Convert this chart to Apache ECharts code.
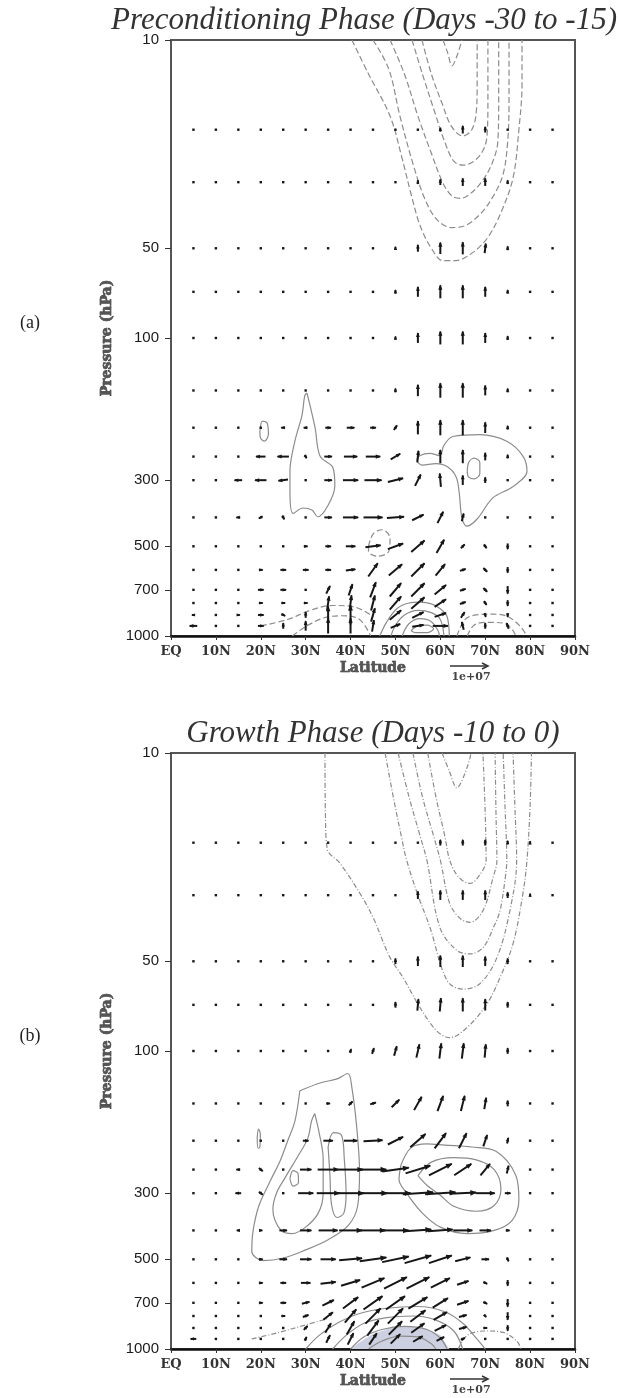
<!DOCTYPE html>
<html><head><meta charset="utf-8">
<script src="https://cdn.jsdelivr.net/npm/echarts@6/dist/echarts.min.js"></script>
<style>html,body{margin:0;padding:0;background:#fff;}#c{width:620px;height:1398px;}</style>
</head><body><div id="c"></div>
<script>
// ---------- axes / grid definitions ----------
const LATS = [5,10,15,20,25,30,35,40,45,50,55,60,65,70,75,80,85];
const LEVELS = [20,30,50,70,100,150,200,250,300,400,500,600,700,775,850,925];
const P_TICKS = [10,50,100,300,500,700,1000];
const LAT_LABELS = ['EQ','10N','20N','30N','40N','50N','60N','70N','80N','90N'];
const TITLES = ['Preconditioning Phase (Days -30 to -15)','Growth Phase (Days -10 to 0)'];
const TAGS = ['(a)','(b)'];
const REF_VALUE = 10;   // reference vector, units of 1e6 (label 1e+07)

// ---------- panel (a) vectors: rows = LEVELS, cols = LATS (units 1e6) ----------
const A_U = [
 [0,0,0,0,0,0,0,0,0,0,0,0,0,0,0,0,0],
 [0,0,0,0,0,0,0,0,0,-0.3,0,0,0,0,0,0,0],
 [0,0,0,0,0,0,0,0,0,0,0,0,0,0.3,0,0,0],
 [0,0,0,0,0,0,0,0,0,0,0,0,0,0,0,0,0],
 [0,0,0,0,0,0,0,0,0,0,0,0,0,0,0,0,0],
 [0,0,0,0,0,0,0,0,0,0,0,0,0,0,0,0,0],
 [0,0,0,0,-1,-1,1.5,2,1.5,0.8,0,0,0,0,0,0,0],
 [-0.5,0,0,-2.5,-3,0.5,2,3.5,3.8,2.5,0.3,0,0,0,0,0,0],
 [-0.5,0,-2,-3,-2.5,0,2,4,4.5,4,1.5,-0.3,0,0,0,0,0],
 [0,0,-1,-1,0.5,0.5,2,4,5,4.5,3,1.5,0.5,0,0,0,0],
 [0,0,0.5,0,0.5,1,1.5,2.5,4,4,3.5,2,1,0.7,0,0,0],
 [0,0,0,1,1.5,1.5,1.5,2.5,2.5,3.5,3.5,2.5,1.5,1,0,0,0],
 [0,0,0,1.5,1.5,0,1,1,1.5,3,3.5,3,1.5,1,0,0,0],
 [0,0,0,1,1,1,0.5,0.5,1,3,3.5,3,1.5,0.7,0,0,0],
 [-0.8,0,0.8,1.5,1,0,0,0,1,3,3,3,1,0.3,0,0,0],
 [-2,0,0,1.5,0,0,0,0,0.5,2.5,3,4,-0.5,0,-0.5,0,0]
];
const A_V = [
 [0,0,0,0,0,0,0,0,0,0.3,0.5,1,2,1.5,0.5,0,0],
 [0,0,0,0,0,0,0,0,0,0.5,1,1.5,2,2,1,0,0],
 [0,0,0,0,0,0,0,0,0.3,0.8,1.8,3,3.2,2.5,1,0.2,0],
 [0,0,0,0,0,0,0,0,0,1,2.6,3.4,3.4,2.6,1,0,0],
 [0,0,0,0,0,0,0,0,0,0.8,2.6,3.4,3.4,2.6,1,0,0],
 [0,0,0,0,0,0,0,0,0,1,3,3.8,3.8,2.6,1,0,0],
 [0,0,0,0,0,0,0,0,0,1.2,3.5,4,4,2.8,1,0,0],
 [0,0,0,0,0,-0.8,0,0,0,1.5,3,3.5,3.5,2,1,0,0],
 [0,0,0,0,-0.3,0,0,0,0,1,3,3.5,2.5,1.5,0,0,0],
 [0,0,0,-0.5,-1,0,0,0,0,0.3,1.5,3,2,0,0,0,0],
 [0,0,0,0,0,0,0,0,0.5,1.5,3,3.5,1,-1,-1.5,0,0],
 [0,0,0,0,0,0,0,0.3,3.5,3,3.5,3,0.5,-1,-1.5,0,0],
 [0,0,0,0,0,0,2,3,4,3.5,3.5,2.5,0.5,-1,-2,0,0],
 [0,0,0,0,0,0,3.5,4,4,3.5,3,2,0.5,-1,-1.5,0,0],
 [0,0,0,0,-0.5,1.5,4.5,5,3.5,2.5,1.5,1,1.5,-1,-1,0,0],
 [0,0,0,0,1.5,2.5,4,4,3,1,0.5,0,2,1.5,1.5,0,0]
];

// ---------- panel (b) vectors ----------
const B_U = [
 [0,0,0,0,0,0,0,0,0,0,0,0,0,0,0,0,0],
 [0,0,0,0,0,0,0,0,0,0.2,0,0,0,0,0,0,0],
 [0,0,0,0,0,0,0,0,0,0,0,0,0,0,0,0,0],
 [0,0,0,0,0,0,0,0,0,0,0.3,0.3,0,0,0,0,0],
 [0,0,0,0,0,0,0,0.3,0.5,0.7,0.8,0.5,0.5,0.3,0,0,0],
 [0,0,0,0,0,0.5,1,1,1.5,2,2,1.5,1,0.5,0,0,0],
 [0,0,0,0,0,1.5,2.5,3.5,5,4,4,3,2,1,0.3,0,0],
 [0,0,-1,1,0,3,5.5,6.5,7,7,6.5,6,4.5,2.5,0.5,0.3,0],
 [0,0,-1.5,1,0.5,4,6,7,7.5,8,8,8,7,5,1.5,0,0],
 [0,0,-0.8,0.8,2,3,5,6,6.5,7,7,6.5,5,3,1,0,0],
 [0,0,0.5,1,2,3,4,6,7,7,7,6,4,2,0.5,0,0],
 [0,0,0,1,1.5,2.5,4,5,6,6,6,5,3,1,0,0,0],
 [0,0,0.5,1,1.5,2,3,4,5,5,5,4,3,1,0,0,0],
 [0,0,0,0.5,1,1.5,2.5,3,4,4,4,3.5,2,0.5,0,0,0],
 [0,0,0,0,0.5,1,1.5,2,3,3.5,3.5,3,2,1,0,0,0],
 [-1.5,0,0,0,0,0.5,1,1.5,2,2.5,2.5,2,1,0.5,0,0,0]
];
const B_V = [
 [0,0,0,0,0,0,0,0,0,0,0.3,1.5,1.5,1.5,1,0.8,0],
 [0,0,0,0,0,0,0,0,0,0,2,2.5,2.5,2.5,1.5,0.8,0],
 [0,0,0,0,0,0,0,0,0,1.5,2.5,3,3,2.5,1.5,0.3,0],
 [0,0,0,0,0,0,0,0,0.3,1.5,3,3.5,3.5,3,1.5,0,0],
 [0,0,0,0,0,0,0,1,1.5,2.5,3.5,4,4,3.5,1.5,0,0],
 [0,0,0,0,0,0,0,1,0.5,2,3.5,4,4,3,1.5,0,0],
 [0,0,0,0.5,0,0,0,0,0.3,2,3.5,4,4,3,1.5,0,0],
 [0,0,0,-0.8,0,0,0,0,0,1,2,3,3,3,2,-0.3,0],
 [0,0,0,-0.8,0,0,0,0,0,0,0.5,0.5,0.3,0,0,0,0],
 [0,0,0,0,0,0,0,0,0,0,0.5,0.5,0,0,0,0,0],
 [0,0,0,0,0,0,0,0.5,1,1.5,2,2,1,0,-1,0,0],
 [0,0,0,0,0,0,0.5,1.5,2.5,3,3,2.5,1,-0.5,-1.5,0,0],
 [0,0,0,0,0,0.5,1.5,3,3.5,3.5,3,2.5,1,-0.5,-2,0,0],
 [0,0,0,0,0,0.5,2,3.5,4,4,3,2,0.5,-0.5,-2,0,0],
 [0,0,0,0,0,1,2.5,3.5,4,3.5,2.5,1.5,0.5,0,-1.5,0,0],
 [0,0,0,0,0,1,2,3,3,2.5,1.5,1,0.5,0,0,0,0]
];

// ---------- contours [lat, hPa] ----------
const A_NEG_UPPER = [
 [[60.6,10],[61.6,11],[62.6,12.2],[63.8,11.2],[64.8,10]],
 [[55.9,10],[58,13],[60.5,16.5],[62.5,19.5],[65,21],[67,20],[68,17.5],[68.2,14],[68.2,10]],
 [[53.7,10],[56,13],[58.5,17],[61,22],[63,25.5],[65,26.3],[67.5,25.5],[69.5,23.5],[70.4,21],[70.6,16],[70.6,10]],
 [[48.8,10],[52,13],[55,18],[58,24],[60.5,30],[62.5,33.3],[64.5,34],[67,32.5],[69.5,29.5],[71.5,26],[72.8,22],[73,16],[73,10]],
 [[45,10],[48.5,12.5],[51,18],[53.9,26],[56.5,34],[59.2,40],[62.5,42.6],[65.5,42],[68.8,38.5],[71.5,34],[73.9,28.5],[75,22],[75.3,16],[75.3,10]],
 [[40.3,10],[44,13],[48.8,18],[51.5,25],[53.5,33],[55.5,42],[58,50],[60.6,55],[63.5,55],[66.6,52.5],[69,49],[71,45],[73.5,38],[76.2,29],[77.5,20],[78.2,14],[78.2,10]]
];
const A_POS = [
 [[30.3,153],[32.1,200],[33.2,249],[36.1,273],[36.5,313],[35,364],[32.7,398],[31.4,378],[29.4,372],[27.2,388],[26.5,327],[26.5,280],[27.6,222],[29.2,181],[29.8,156],[30.3,153]],
 [[19.8,205],[20.4,190],[21.4,193],[21.7,210],[20.8,222],[19.9,216],[19.8,205]],
 [[60.6,232],[62.8,214],[68.8,211],[74.8,222],[78.4,249],[79.3,280],[76.2,315],[71.7,344],[68.2,405],[65.9,428],[64.8,400],[64.2,330],[63.5,292],[61.5,270],[59,264],[56,267],[54.8,257],[55.5,248],[57.7,244],[59.8,248],[60.6,232]],
 [[66,283],[66.3,262],[67.5,253],[68.8,262],[68.8,285],[67.5,297],[66.3,293],[66,283]],
 [[46.5,1000],[48,900],[50.3,810],[53,775],[55.5,770],[58,780],[60,810],[61.5,860],[62,1000]],
 [[49,1000],[50,920],[52,850],[55,820],[58,835],[60,880],[60.8,1000]],
 [[51.5,1000],[53,910],[55.5,875],[58,895],[59.5,960],[59.8,1000]],
 [[53.5,960],[55,925],[57,920],[58.5,945],[57,975],[54.5,975],[53.5,960]]
];
const A_NEG_LOWER = [
 [[44,500],[45,455],[47,440],[48.8,470],[48.5,520],[46,540],[44,520],[44,500]],
 [[63.7,1000],[65.5,880],[68,850],[72,845],[75,860],[77.7,925],[79.3,1000]],
 [[66,1000],[67.5,920],[70.5,900],[74,905],[76,950],[76.8,1000]],
 [[20,925],[26,880],[31,820],[36,790],[41,800],[45,860]],
 [[27,1000],[30,930],[34,870],[38,855],[42,880],[44.5,1000]]
];
const B_NEG_UPPER = [
 [[60.4,10],[62,11.5],[63.7,13.1],[65.2,12],[66.6,10.4],[66.8,10]],
 [[57.2,10],[59,14],[61,19],[62.1,22.9],[64,26],[66.6,27.4],[68.5,26],[70.2,22.9],[70,16],[69.5,10]],
 [[53.9,10],[56,14],[58.5,19],[60,22.9],[62.1,32],[64.5,36],[66.6,37],[69.5,33.8],[71.8,26],[72.6,22.9],[72.4,16],[72.2,10]],
 [[50.6,10],[53,14],[55.5,19],[57,22.9],[59.9,38.5],[63.7,46],[66.6,47.2],[69.5,45],[72,38],[73.3,33.8],[74.5,26],[74.8,22.9],[74.4,15],[74,10]],
 [[47.7,10],[49.5,14],[51.3,19],[52.5,22.9],[55,30],[57.7,38.5],[61.5,58],[65,62],[68.8,59.5],[72.6,48.6],[75.5,33.8],[77,22.9],[76.6,15],[76.2,10]],
 [[34.3,10],[34.4,16],[34.8,21],[37.6,23.4],[42.1,29.6],[45,35.6],[48.8,48.6],[51.7,56.7],[55.5,71.6],[59.2,85.6],[62.1,90.2],[65.9,83.6],[70.4,69.4],[73.3,56.7],[76.2,43.6],[78.4,29.6],[79.3,22.9],[80,15],[80.3,10]]
];
const B_POS = [
 [[28.7,136],[33.2,128],[37,124],[39.4,119],[40.3,133],[41.4,182],[42,254],[41.6,330],[39.5,385],[35,430],[30,465],[25,495],[20.5,505],[18,470],[18.3,400],[19.6,330],[22,275],[24.3,234],[26,200],[27.6,172],[28.7,136]],
 [[32,162],[33,188],[33.9,230],[33.9,300],[32.8,350],[30,390],[27,410],[24.5,400],[22.7,340],[23.5,300],[25.5,265],[28.3,225],[30.5,196],[31.3,172],[32,162]],
 [[26.5,268],[27.2,252],[28.3,258],[28.4,276],[27.2,284],[26.5,268]],
 [[35,210],[36.2,188],[38,192],[38.6,230],[39,300],[38.5,350],[37,362],[35.8,330],[35.4,260],[35,210]],
 [[19.2,195],[19.5,183],[19.9,190],[19.8,210],[19.4,212],[19.2,195]],
 [[51.2,242],[53.5,211],[57,205],[61,207],[67,210],[72.4,217],[76.8,261],[77.5,315],[76,370],[72,400],[66,410],[60,390],[56,350],[52.5,300],[50.8,270],[51.2,242]],
 [[55,262],[58,236],[63,228],[68,232],[72,250],[73.5,290],[72,330],[68,345],[63,332],[60,305],[57,282],[55,262]],
 [[30,1000],[33,900],[37,820],[42,760],[48,730],[55,720],[61,750],[65,820],[68,920],[70,1000]],
 [[36,1000],[39,900],[43,820],[48,785],[54,775],[59,800],[63,870],[65,1000]],
 [[40,1000],[43,910],[47,860],[52,840],[57,860],[60,920],[61.5,1000]],
 [[44,1000],[47,940],[51,905],[55,910],[58,960],[59,1000]]
];
const B_NEG_LOWER = [
 [[64,1000],[66,900],[70,870],[74,880],[77,940],[78,1000]],
 [[18,925],[24,880],[30,830],[35,790]]
];
const B_SHADE = [[40,1000],[42,950],[45,890],[49,850],[53,840],[57,855],[60,900],[62,1000]];

// ---------- build ----------
const PX = 3.8; // pixels per 1e6 unit
const INK = '#161616';
const GRID_TOPS = [40, 753];
const GRID_H = 596;

function vectors(U, V) {
  const out = [];
  LEVELS.forEach((p, i) => LATS.forEach((lat, j) => out.push([lat, p, U[i][j], V[i][j]])));
  return out;
}
function renderArrow(params, api) {
  const c = api.coord([api.value(0), api.value(1)]);
  const dx = api.value(2) * PX, dy = -api.value(3) * PX;
  const len = Math.sqrt(dx * dx + dy * dy);
  if (len < 2.5) {
    return {type: 'rect', shape: {x: c[0] - 1.2, y: c[1] - 1.2, width: 2.4, height: 2.4}, style: {fill: INK}};
  }
  const x1 = c[0] + dx / 2, y1 = c[1] + dy / 2, x0 = c[0] - dx / 2, y0 = c[1] - dy / 2;
  const a = Math.atan2(dy, dx), h = Math.min(6.5, 3.2 + len * 0.12), w = 0.45;
  return {type: 'group', children: [
    {type: 'line', shape: {x1: x0, y1: y0, x2: x1, y2: y1}, style: {stroke: INK, lineWidth: 2}},
    {type: 'polygon', shape: {points: [[x1 + 0.8 * Math.cos(a), y1 + 0.8 * Math.sin(a)], [x1 - h * Math.cos(a - w), y1 - h * Math.sin(a - w)], [x1 - h * Math.cos(a + w), y1 - h * Math.sin(a + w)]]}, style: {fill: INK}}
  ]};
}
function contourSeries(lines, k, ls) {
  return lines.map(pts => ({
    type: 'line', xAxisIndex: k, yAxisIndex: k, data: pts, showSymbol: false, symbol: 'none',
    smooth: 0.35, lineStyle: ls, silent: true, z: 2, animation: false
  }));
}
const solidStyle = {color: '#8c8c8c', width: 1.2, type: 'solid'};
const dashA = {color: '#8c8c8c', width: 1.2, type: [6, 3]};
const dashB = {color: '#8c8c8c', width: 1.2, type: [5, 2, 1, 2]};

const grids = [], xAxes = [], yAxes = [], series = [], graphic = [];
[0, 1].forEach(k => {
  grids.push({left: 171, width: 404, top: GRID_TOPS[k], height: GRID_H, show: true, borderColor: '#555', borderWidth: 2, backgroundColor: 'transparent'});
  xAxes.push({
    type: 'value', gridIndex: k, min: 0, max: 90, interval: 10,
    axisLine: {show: true, lineStyle: {color: '#111', width: 2.5}},
    axisTick: {show: true, length: 4, lineStyle: {color: '#333', width: 1}},
    axisLabel: {formatter: v => LAT_LABELS[Math.round(v / 10)], fontFamily: 'DejaVu Serif', fontWeight: 'bold', fontSize: 13, color: '#333', margin: 9},
    splitLine: {show: false},
    name: 'Latitude', nameLocation: 'middle', nameGap: 25,
    nameTextStyle: {fontFamily: 'DejaVu Serif', fontWeight: 'bold', fontSize: 14, color: '#555', textBorderColor: '#222', textBorderWidth: 0.6}
  });
  yAxes.push({
    type: 'log', logBase: 10, gridIndex: k, min: 10, max: 1000, inverse: true,
    axisLine: {show: true, lineStyle: {color: '#555', width: 2}},
    axisTick: {show: true, inside: false, length: 6, customValues: P_TICKS, lineStyle: {color: '#333'}},
    axisLabel: {customValues: P_TICKS, formatter: v => String(Math.round(v)), margin: 12, fontFamily: 'Liberation Sans', fontSize: 15, color: '#1a1a1a'},
    splitLine: {show: false}, minorTick: {show: false},
    name: 'Pressure (hPa)', nameLocation: 'middle', nameGap: 51, nameRotate: 90,
    nameTextStyle: {fontFamily: 'DejaVu Serif', fontWeight: 'bold', fontSize: 14, color: '#555', textBorderColor: '#222', textBorderWidth: 0.6}
  });
});

series.push({
  type: 'custom', xAxisIndex: 1, yAxisIndex: 1, data: [[0]], silent: true, z: 1,
  renderItem: (params, api) => ({type: 'polygon', shape: {points: B_SHADE.map(pt => api.coord(pt))}, style: {fill: '#cdd0e0'}})
});
series.push(...contourSeries(A_NEG_UPPER, 0, dashA));
series.push(...contourSeries(A_POS, 0, solidStyle));
series.push(...contourSeries(A_NEG_LOWER, 0, dashA));
series.push(...contourSeries(B_NEG_UPPER, 1, dashB));
series.push(...contourSeries(B_POS, 1, solidStyle));
series.push(...contourSeries(B_NEG_LOWER, 1, dashB));
series.push({type: 'custom', xAxisIndex: 0, yAxisIndex: 0, data: vectors(A_U, A_V), encode: {x: 0, y: 1}, renderItem: renderArrow, silent: true, z: 5});
series.push({type: 'custom', xAxisIndex: 1, yAxisIndex: 1, data: vectors(B_U, B_V), encode: {x: 0, y: 1}, renderItem: renderArrow, silent: true, z: 5});

[0, 1].forEach(k => {
  const off = GRID_TOPS[k] - GRID_TOPS[0];
  graphic.push({type: 'text', x: k === 0 ? 364 : 373, y: off + 21, style: {text: TITLES[k], font: 'italic 31px "Liberation Serif"', fill: '#333', align: 'center', verticalAlign: 'middle'}});
  graphic.push({type: 'text', x: 30, y: 323 + off, style: {text: TAGS[k], font: '18px "Liberation Serif"', fill: '#222', align: 'center', verticalAlign: 'middle'}});
  const L = REF_VALUE * PX, x0 = 450, y0 = 666 + off;
  graphic.push({type: 'line', shape: {x1: x0, y1: y0, x2: x0 + L, y2: y0}, style: {stroke: '#333', lineWidth: 1.5}});
  graphic.push({type: 'polyline', shape: {points: [[x0 + L - 6, y0 - 3], [x0 + L, y0], [x0 + L - 6, y0 + 3]]}, style: {stroke: '#333', lineWidth: 1.5, fill: null}});
  graphic.push({type: 'text', x: x0 + L / 2 + 2, y: 677 + off, style: {text: '1e+07', font: 'bold 11px "DejaVu Serif"', fill: '#444', align: 'center', verticalAlign: 'middle'}});
});

const chart = echarts.init(document.getElementById('c'), null, {renderer: 'canvas'});
chart.setOption({animation: false, backgroundColor: '#fff', grid: grids, xAxis: xAxes, yAxis: yAxes, series: series, graphic: graphic});
</script></body></html>
